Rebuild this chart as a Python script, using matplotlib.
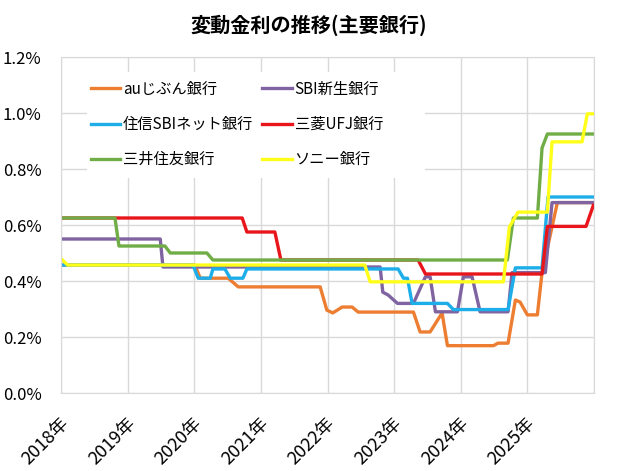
import matplotlib
matplotlib.use("Agg")
import matplotlib.pyplot as plt
import matplotlib.transforms as mtransforms
from matplotlib.patches import Rectangle

plt.rcParams['font.family'] = ['Noto Sans CJK JP', 'DejaVu Sans']

# 変動金利 (%) – 年は小数表記
au_x = [2018.00, 2020.01, 2020.09, 2020.51, 2020.66, 2021.89, 2021.99, 2022.08, 2022.22,
        2022.37, 2022.46, 2023.29, 2023.39, 2023.54, 2023.72, 2023.80, 2024.49, 2024.56,
        2024.71, 2024.82, 2024.89, 2025.00, 2025.15, 2025.22, 2025.45, 2026.00]
au_y = [0.457, 0.457, 0.41, 0.41, 0.379, 0.379, 0.296, 0.286, 0.307,
        0.307, 0.289, 0.289, 0.218, 0.218, 0.286, 0.169, 0.169, 0.178,
        0.178, 0.332, 0.325, 0.279, 0.279, 0.43, 0.68, 0.68]

sbishinsei_x = [2018.00, 2019.49, 2019.53, 2022.79, 2022.83, 2022.91, 2023.05, 2023.29, 2023.47,
                2023.54, 2023.62, 2023.95, 2024.04, 2024.17, 2024.29, 2024.71, 2024.77, 2025.27,
                2025.37, 2026.00]
sbishinsei_y = [0.55, 0.55, 0.45, 0.45, 0.36, 0.35, 0.32, 0.32, 0.415,
                0.415, 0.29, 0.29, 0.415, 0.415, 0.29, 0.29, 0.43, 0.43,
                0.68, 0.68]

sumishin_x = [2018.00, 2019.98, 2020.06, 2020.24, 2020.28, 2020.46, 2020.54, 2020.73, 2020.79,
              2023.06, 2023.14, 2023.20, 2023.27, 2023.80, 2023.89, 2024.71, 2024.82, 2025.22,
              2025.31, 2026.00]
sumishin_y = [0.457, 0.457, 0.41, 0.41, 0.443, 0.443, 0.41, 0.41, 0.443,
              0.443, 0.41, 0.41, 0.32, 0.32, 0.298, 0.298, 0.447, 0.447,
              0.70, 0.70]

mufg_x = [2018.00, 2020.72, 2020.79, 2021.21, 2021.30, 2023.36, 2023.47, 2025.22, 2025.30,
          2025.88, 2025.99]
mufg_y = [0.625, 0.625, 0.575, 0.575, 0.475, 0.475, 0.425, 0.425, 0.595,
          0.595, 0.67]

smbc_x = [2018.00, 2018.81, 2018.87, 2019.56, 2019.64, 2020.19, 2020.28, 2024.70, 2024.79,
          2025.15, 2025.22, 2025.30, 2026.00]
smbc_y = [0.625, 0.625, 0.525, 0.525, 0.50, 0.50, 0.475, 0.475, 0.625,
          0.625, 0.875, 0.925, 0.925]

sony_x = [2018.00, 2018.10, 2022.56, 2022.64, 2024.64, 2024.73, 2024.86, 2025.30, 2025.37,
          2025.82, 2025.90, 2026.00]
sony_y = [0.48, 0.457, 0.457, 0.397, 0.397, 0.593, 0.646, 0.646, 0.897,
          0.897, 0.997, 0.997]

years = list(range(2018, 2027))
year_labels = [f'{y}年' for y in years[:-1]] + ['']
yticks = [0, 0.2, 0.4, 0.6, 0.8, 1.0, 1.2]

fig = plt.figure(figsize=(6.17, 4.71), dpi=100)
ax = fig.add_axes([61/617, 1 - 393/471, 533/617, 336/471])

lw = 2.4
l_au, = ax.plot(au_x, au_y, color='#ED7D31', lw=lw, label='auじぶん銀行')
l_sbi, = ax.plot(sbishinsei_x, sbishinsei_y, color='#8064A2', lw=lw, label='SBI新生銀行')
l_sumi, = ax.plot(sumishin_x, sumishin_y, color='#1DAEEA', lw=lw, label='住信SBIネット銀行')
l_mufg, = ax.plot(mufg_x, mufg_y, color='#E8161B', lw=lw, label='三菱UFJ銀行')
l_smbc, = ax.plot(smbc_x, smbc_y, color='#70AD47', lw=lw, label='三井住友銀行')
l_sony, = ax.plot(sony_x, sony_y, color='#FFFF1A', lw=lw, label='ソニー銀行')

ax.set_xlim(2018, 2026)
ax.set_ylim(0, 1.2)
ax.set_xticks(years)
ax.set_xticklabels(year_labels, rotation=45, ha='right', va='center', rotation_mode='anchor')
ax.set_yticks(yticks)
ax.set_yticklabels([f'{v:.1f}%' for v in yticks])
ax.tick_params(axis='y', length=0, labelsize=12, pad=14)
ax.tick_params(axis='x', length=0, labelsize=13, pad=20)
shift = mtransforms.ScaledTranslation(5/100, 0, fig.dpi_scale_trans)
for lbl in ax.get_xticklabels():
    lbl.set_transform(lbl.get_transform() + shift)
ax.grid(True, color='#D9D9D9', lw=1)
ax.set_axisbelow(True)
for s in ax.spines.values():
    s.set_color('#D9D9D9')

# white legend area
ax.add_patch(Rectangle((0.049, 0.64), 0.634, 0.315, transform=ax.transAxes,
                       facecolor='white', edgecolor='none', zorder=1.5))
# row-wise order as in the original (matplotlib fills columns first)
handles = [l_au, l_sumi, l_smbc, l_sbi, l_mufg, l_sony]
ax.legend(handles=handles, labels=[h.get_label() for h in handles],
          loc='upper left', bbox_to_anchor=(0.056, 0.93), ncol=2, frameon=False,
          borderpad=0, borderaxespad=0, fontsize=11, handlelength=1.9,
          handletextpad=0.2, columnspacing=0.6, labelspacing=1.2)

fig.suptitle('変動金利の推移(主要銀行)', x=0.5, y=0.97, fontsize=14.5, fontweight='bold')

fig.savefig('out.png', dpi=100)
